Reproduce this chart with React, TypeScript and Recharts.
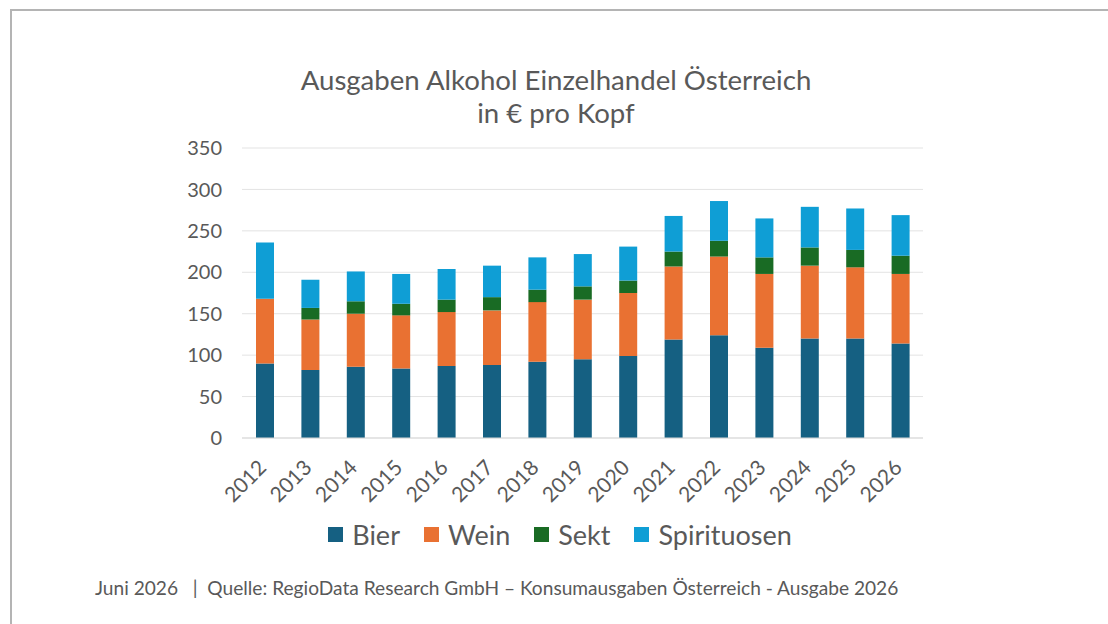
import { Bar, BarChart, CartesianGrid, Legend, XAxis, YAxis } from 'recharts'

// Ausgaben Alkohol Einzelhandel Österreich, € pro Kopf
const years = ['2012', '2013', '2014', '2015', '2016', '2017', '2018', '2019', '2020', '2021', '2022', '2023', '2024', '2025', '2026']
const bier = [90, 82, 86, 84, 87, 88, 92, 95, 99, 119, 124, 109, 120, 120, 114]
const wein = [78, 61, 64, 64, 65, 66, 72, 72, 76, 88, 95, 89, 88, 86, 84]
const sekt = [0, 14, 15, 14, 15, 16, 15, 16, 15, 18, 19, 20, 22, 21, 22]
const spirituosen = [68, 34, 36, 36, 37, 38, 39, 39, 41, 43, 48, 47, 49, 50, 49]
const seriesNames = ['Bier', 'Wein', 'Sekt', 'Spirituosen']
const yTicks = [0, 50, 100, 150, 200, 250, 300, 350]

const FONT = 'Lato, "Open Sans", sans-serif'
const GREY = '#595959'

const rows = years.map((year, i) => ({
  year,
  Bier: bier[i],
  Wein: wein[i],
  Sekt: sekt[i],
  Spirituosen: spirituosen[i],
}))

function YearTick({ x, y, payload }: any) {
  return (
    <g transform={`translate(${x + 3},${y + 31})`}>
      <text transform="rotate(-45)" textAnchor="end" fill={GREY} fontSize={21} fontFamily={FONT}>
        {payload.value}
      </text>
    </g>
  )
}

function LegendRow({ payload }: any) {
  // keep the series order instead of the legend's alphabetical sort
  const items = [...(payload ?? [])].sort(
    (a: any, b: any) => seriesNames.indexOf(a.value) - seriesNames.indexOf(b.value),
  )
  return (
    <div style={{ display: 'flex', justifyContent: 'center', gap: 24, fontFamily: FONT, fontSize: 27, color: GREY }}>
      {items.map((p: any) => (
        <span key={p.value} style={{ display: 'flex', alignItems: 'center' }}>
          <span style={{ width: 15, height: 15, background: p.color, marginRight: 9, display: 'inline-block' }} />
          {p.value}
        </span>
      ))}
    </div>
  )
}

export default function App() {
  return (
    <div style={{ position: 'fixed', left: 0, top: 0, width: 1108, height: 624, overflow: 'hidden', background: '#fff' }}>
      <div
        style={{
          position: 'absolute',
          left: 10,
          top: 9,
          width: 1200,
          height: 700,
          borderTop: '2px solid #b4b4b4',
          borderLeft: '2px solid #b4b4b4',
        }}
      />
      <div
        style={{
          position: 'absolute',
          left: 0,
          width: 1112,
          top: 63,
          textAlign: 'center',
          fontFamily: FONT,
          fontSize: 27.6,
          lineHeight: '33px',
          color: GREY,
        }}
      >
        Ausgaben Alkohol Einzelhandel Österreich
        <br />
        in € pro Kopf
      </div>
      <div style={{ position: 'absolute', left: 0, top: 0 }}>
        <BarChart
          width={1108}
          height={624}
          data={rows}
          margin={{ top: 148, right: 185, left: 160, bottom: 126 }}
          barSize={18}
        >
          <CartesianGrid stroke="#e3e3e3" vertical={false} />
          <XAxis
            dataKey="year"
            axisLine={{ stroke: '#d9d9d9' }}
            tickLine={false}
            tickSize={0}
            tickMargin={0}
            height={60}
            interval={0}
            tick={<YearTick />}
          />
          <YAxis
            width={82}
            domain={[0, 350]}
            ticks={yTicks}
            axisLine={false}
            tickLine={false}
            tickSize={0}
            tickMargin={20}
            tick={{ fill: GREY, fontSize: 20, fontFamily: FONT }}
          />
          <Legend
            verticalAlign="middle"
            align="center"
            layout="horizontal"
            wrapperStyle={{ top: 518, left: 0, width: 1120 }}
            content={<LegendRow />}
          />
          <Bar dataKey="Bier" stackId="a" fill="#156082" isAnimationActive={false} />
          <Bar dataKey="Wein" stackId="a" fill="#E97132" isAnimationActive={false} />
          <Bar dataKey="Sekt" stackId="a" fill="#196B24" isAnimationActive={false} />
          <Bar dataKey="Spirituosen" stackId="a" fill="#0F9ED5" isAnimationActive={false} />
        </BarChart>
      </div>
      <div
        style={{
          position: 'absolute',
          left: 95,
          top: 576,
          fontFamily: FONT,
          fontSize: 19.15,
          color: GREY,
          whiteSpace: 'pre',
        }}
      >
        {'Juni 2026   |  Quelle: RegioData Research GmbH – Konsumausgaben Österreich - Ausgabe 2026'}
      </div>
    </div>
  )
}
